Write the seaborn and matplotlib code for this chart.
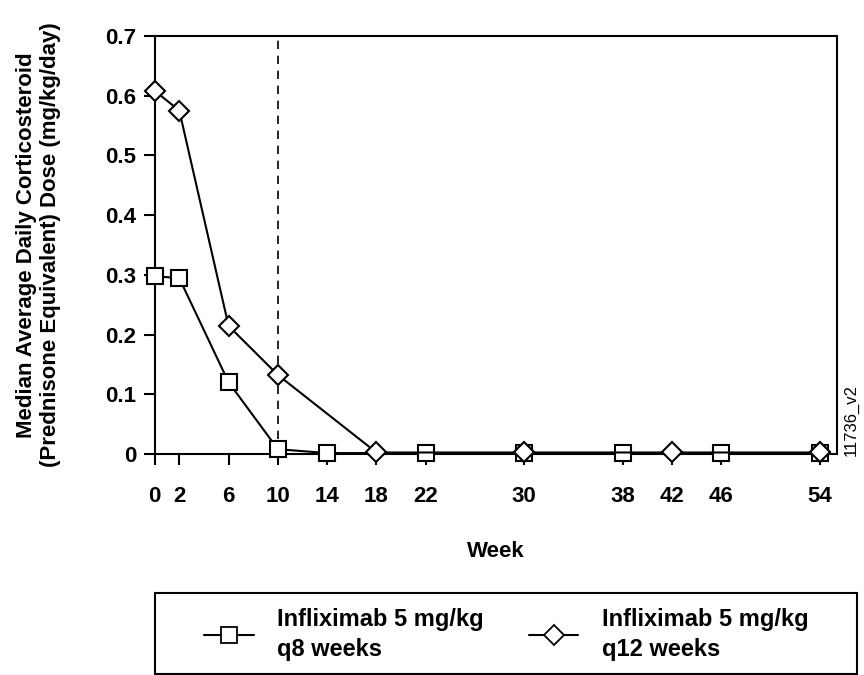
import matplotlib
matplotlib.use("Agg")
import matplotlib.pyplot as plt
import seaborn as sns
import pandas as pd
from matplotlib.lines import Line2D
from matplotlib.patches import Rectangle

sns.set_style("ticks")
plt.rcParams['font.family'] = ['Liberation Sans', 'DejaVu Sans']
plt.rcParams['text.color'] = 'black'
plt.rcParams['axes.labelcolor'] = 'black'

# Data
weeks_q8 = [0, 2, 6, 10, 14, 22, 30, 38, 46, 54]
dose_q8 = [0.298, 0.2945, 0.1205, 0.0085, 0.002, 0.002, 0.002, 0.002, 0.002, 0.002]
weeks_q12 = [0, 2, 6, 10, 18, 30, 42, 54]
dose_q12 = [0.608, 0.575, 0.2147, 0.1327, 0.003, 0.003, 0.003, 0.003]
x_ticks = [0, 2, 6, 10, 14, 18, 22, 30, 38, 42, 46, 54]
y_ticks = [0, 0.1, 0.2, 0.3, 0.4, 0.5, 0.6, 0.7]
y_tick_labels = ["0", "0.1", "0.2", "0.3", "0.4", "0.5", "0.6", "0.7"]
label_q8 = "Infliximab 5 mg/kg\nq8 weeks"
label_q12 = "Infliximab 5 mg/kg\nq12 weeks"

df8 = pd.DataFrame({"week": weeks_q8, "dose": dose_q8})
df12 = pd.DataFrame({"week": weeks_q12, "dose": dose_q12})

fig = plt.figure(figsize=(8.64, 6.75), dpi=100)
ax = fig.add_axes([0.179, 0.327, 0.79, 0.62])

ax.axvline(10, color="black", lw=1.2, ls=(0, (5, 4)), zorder=1)

sns.lineplot(data=df8, x="week", y="dose", ax=ax, color="black", lw=1.5,
             marker="s", markersize=11, markerfacecolor="white",
             markeredgecolor="black", markeredgewidth=1.5, zorder=3)
sns.lineplot(data=df12, x="week", y="dose", ax=ax, color="black", lw=1.5,
             marker="D", markersize=10, markerfacecolor="white",
             markeredgecolor="black", markeredgewidth=1.5, zorder=4)

ax.set_xlim(0, 55.4)
ax.set_ylim(0, 0.7)
ax.set_xticks(x_ticks)
ax.set_yticks(y_ticks)
ax.set_yticklabels(y_tick_labels)
ax.tick_params(axis="both", labelsize=16, length=8, width=1.5, colors="black", pad=5)
ax.tick_params(axis="x", pad=15)
for t in ax.get_xticklabels() + ax.get_yticklabels():
    t.set_fontweight("bold")
for s in ax.spines.values():
    s.set_linewidth(1.5)
    s.set_color("black")
for l in ax.lines:
    l.set_clip_on(False)

ax.set_xlabel("Week", fontsize=16, fontweight="bold", labelpad=24)
ax.set_ylabel("Median Average Daily Corticosteroid\n(Prednisone Equivalent) Dose (mg/kg/day)",
              fontsize=16, fontweight="bold", labelpad=32, linespacing=1.2)

fig.text(0.985, 0.378, "11736_v2", rotation=90, fontsize=12, ha="center", va="center")

handles = [
    Line2D([], [], color="black", lw=1.5, marker="s", markersize=11,
           markerfacecolor="white", markeredgecolor="black", markeredgewidth=1.3),
    Line2D([], [], color="black", lw=1.5, marker="D", markersize=10,
           markerfacecolor="white", markeredgecolor="black", markeredgewidth=1.3),
]
leg = fig.legend(handles, [label_q8, label_q12], ncol=2, loc="center",
                 bbox_to_anchor=(0.586, 0.06), frameon=False,
                 prop={"size": 17, "weight": "bold"}, handlelength=2.1,
                 columnspacing=1.9, handletextpad=1.0)
for t in leg.get_texts():
    t.set_linespacing(1.4)

fig.patches.append(Rectangle((0.179, 0.002), 0.813, 0.1195, transform=fig.transFigure,
                             fill=False, edgecolor="black", linewidth=1.5, figure=fig))

fig.savefig("out.png", dpi=100)
